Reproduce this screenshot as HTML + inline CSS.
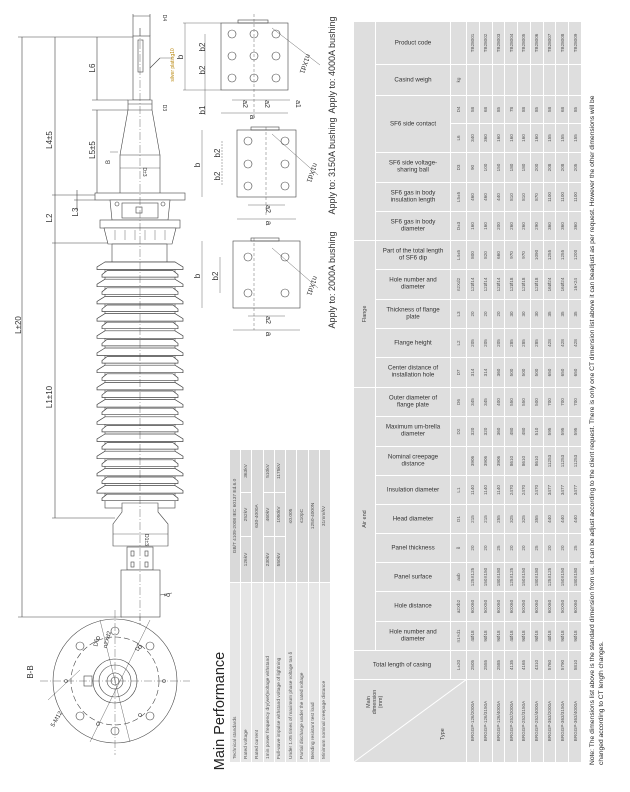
<!DOCTYPE html>
<html><head><meta charset="utf-8">
<style>
html,body{margin:0;padding:0;background:#fff;}
body{width:630px;height:792px;position:relative;overflow:hidden;font-family:"Liberation Sans",sans-serif;}
.rot{position:absolute;transform-origin:0 0;transform:rotate(-90deg);}
table{border-collapse:collapse;table-layout:fixed;font-family:"Liberation Sans",sans-serif;}
td{border:1px solid #fff;background:#dedede;padding:0;text-align:center;vertical-align:middle;font-size:4.6px;color:#555;overflow:hidden;white-space:nowrap;}
td.lab{position:relative;}
.h{position:absolute;left:50%;top:50%;width:64px;transform:translate(-50%,-50%) rotate(90deg);font-size:6.2px;line-height:7.4px;color:#333;white-space:normal;}
.h.w{width:90px;}
td.g{font-size:5.5px;color:#444;}
.pt td{font-size:4.8px;color:#555;background:#d9d9d9;}
.pt td.pl{text-align:left;padding-left:3px;background:#e6e6e6;}
</style></head><body>

<svg width="630" height="792" style="position:absolute;left:0;top:0" xmlns="http://www.w3.org/2000/svg">
<defs>
<polygon id="sb" points="105,0 97,5 97,7.5 183,7.5 183,5 175,0" fill="#fff" stroke="#444" stroke-width="0.7"/>
<polygon id="ss" points="107,0 102,4 102,6.5 178,6.5 178,4 173,0" fill="#fff" stroke="#444" stroke-width="0.7"/>
</defs>
<g stroke="#444" stroke-width="0.6" fill="none">
<line x1="22" y1="37" x2="22" y2="617"/>
<line x1="18" y1="37" x2="135" y2="37"/>
<line x1="18" y1="617" x2="122" y2="617"/>
<line x1="55" y1="37" x2="55" y2="518"/>
<line x1="52" y1="195" x2="95" y2="195"/>
<line x1="52" y1="243" x2="110" y2="243"/>
<line x1="52" y1="518" x2="115" y2="518"/>
<line x1="97" y1="37" x2="97" y2="100"/>
<line x1="92" y1="100" x2="128" y2="100"/>
<line x1="92" y1="110" x2="128" y2="110"/>
<line x1="97" y1="110" x2="97" y2="195"/>
<line x1="77" y1="190" x2="77" y2="210"/>
<line x1="74" y1="200" x2="95" y2="200"/>
<line x1="133" y1="14" x2="133" y2="36"/><line x1="150" y1="14" x2="150" y2="36"/>
<line x1="133" y1="16" x2="150" y2="16"/>
<line x1="140" y1="28" x2="140" y2="625" stroke-dasharray="8,2,1,2" stroke-width="0.4"/>
<rect x="133" y="36" width="17" height="64" fill="#fff"/>
<rect x="138" y="40" width="5" height="32"/>
<line x1="150" y1="68" x2="160" y2="58"/><line x1="160" y1="58" x2="172" y2="58" stroke-width="0.4"/>
<path d="M128,100 L152,100 L152,110 L160,155 L160,195 L120,195 L120,155 L128,110 Z" fill="#fff"/>
<line x1="128" y1="104" x2="152" y2="104"/><line x1="128" y1="110" x2="152" y2="110"/>
<line x1="120" y1="155" x2="160" y2="155"/>
<line x1="120" y1="168" x2="160" y2="168" stroke-width="0.4"/>
<line x1="110" y1="152" x2="118" y2="152" stroke-width="0.4"/>
<rect x="95" y="193" width="90" height="7" fill="#fff"/>
<path d="M110,200 L170,200 L168,220 L112,220 Z" fill="#fff"/>
<rect x="122" y="203" width="36" height="15"/>
<rect x="136" y="207" width="6" height="6"/>
<circle cx="117" cy="204" r="2"/><circle cx="163" cy="204" r="2"/>
<rect x="100" y="220" width="80" height="8" fill="#fff"/>
<path d="M104,228 L176,228 L172,244 L108,244 Z" fill="#fff"/>
<path d="M115,230 v10 M125,230 v10 M135,230 v10 M145,230 v10 M155,230 v10 M165,230 v10" stroke-width="0.4"/>
<rect x="112" y="244" width="55" height="21" fill="#fff"/>
<rect x="105" y="262" width="70" height="246" fill="#fff"/>
</g>
<g>
<use href="#sb" y="262"/><use href="#ss" y="270.6"/><use href="#sb" y="279.2"/><use href="#ss" y="287.8"/>
<use href="#sb" y="296.4"/><use href="#ss" y="305"/><use href="#sb" y="313.6"/><use href="#ss" y="322.2"/>
<use href="#sb" y="330.8"/><use href="#ss" y="339.4"/><use href="#sb" y="348"/><use href="#ss" y="356.6"/>
<use href="#sb" y="365.2"/><use href="#ss" y="373.8"/><use href="#sb" y="382.4"/><use href="#ss" y="391"/>
<use href="#sb" y="399.6"/><use href="#ss" y="408.2"/><use href="#sb" y="416.8"/><use href="#ss" y="425.4"/>
<use href="#sb" y="434"/><use href="#ss" y="442.6"/><use href="#sb" y="451.2"/><use href="#ss" y="459.8"/>
<use href="#sb" y="468.4"/><use href="#ss" y="477"/><use href="#sb" y="485.6"/><use href="#ss" y="494.2"/>
</g>
<g stroke="#444" stroke-width="0.6" fill="#fff">
<path d="M122,503 L158,503 L158,512 L168,524 L168,546 L113,546 L113,524 L122,512 Z"/>
<line x1="113" y1="534" x2="168" y2="534" stroke-width="0.4"/>
<rect x="127" y="547" width="26" height="23"/>
<rect x="131" y="551" width="3" height="5" fill="none"/><rect x="131" y="562" width="3" height="5" fill="none"/>
<rect x="145" y="551" width="3" height="5" fill="none"/><rect x="145" y="562" width="3" height="5" fill="none"/>
<rect x="121" y="570" width="39" height="47"/>
<line x1="160" y1="595" x2="172" y2="593" fill="none"/>
<line x1="140" y1="28" x2="140" y2="625" stroke-dasharray="8,2,1,2" stroke-width="0.4" fill="none"/>
</g>
<g stroke="#444" stroke-width="0.6" fill="none">
<circle cx="115" cy="681" r="62"/>
<circle cx="115" cy="681" r="44" stroke-dasharray="6,3"/>
<circle cx="115" cy="681" r="22"/>
<circle cx="115" cy="681" r="16"/>
<circle cx="115" cy="681" r="8"/>
<circle cx="115" cy="681" r="4"/>
<circle cx="115" cy="631" r="4"/><circle cx="115" cy="731" r="4"/>
<circle cx="80" cy="646" r="4"/><circle cx="150" cy="646" r="4"/>
<circle cx="80" cy="716" r="4"/><circle cx="150" cy="716" r="4"/>
<circle cx="66" cy="681" r="1.5"/><circle cx="164" cy="681" r="1.5"/>
<circle cx="98" cy="638" r="1.5"/><circle cx="98" cy="724" r="1.5"/>
<circle cx="140" cy="647" r="1.5"/><circle cx="140" cy="715" r="1.5"/>
<rect x="84" y="676" width="8" height="10"/>
<line x1="40" y1="681" x2="190" y2="681" stroke-dasharray="8,2,1,2" stroke-width="0.4"/>
<line x1="115" y1="610" x2="115" y2="755" stroke-dasharray="8,2,1,2" stroke-width="0.4"/>
<line x1="100" y1="620" x2="130" y2="742" stroke-width="0.4"/>
<line x1="150" y1="620" x2="90" y2="742" stroke-width="0.4"/>
<line x1="48" y1="700" x2="80" y2="670" stroke-width="0.4"/>
</g>
<g stroke="#444" stroke-width="0.6" fill="none">
<rect x="221" y="23" width="67" height="67"/>
<rect x="238" y="20" width="30" height="3"/>
<circle cx="232" cy="34" r="4"/><circle cx="254" cy="34" r="4"/><circle cx="276" cy="34" r="4"/>
<circle cx="232" cy="56" r="4"/><circle cx="254" cy="56" r="4"/><circle cx="276" cy="56" r="4"/>
<circle cx="232" cy="78" r="4"/><circle cx="254" cy="78" r="4"/><circle cx="276" cy="78" r="4"/>
<line x1="185" y1="23" x2="185" y2="90" stroke-width="0.4"/>
<line x1="205" y1="34" x2="205" y2="115" stroke-width="0.4"/>
<line x1="183" y1="23" x2="221" y2="23" stroke-width="0.4"/><line x1="183" y1="90" x2="221" y2="90" stroke-width="0.4"/>
<line x1="221" y1="113" x2="288" y2="113" stroke-width="0.4"/>
<line x1="232" y1="100" x2="290" y2="100" stroke-width="0.4"/>
<line x1="272" y1="28" x2="320" y2="65" stroke-width="0.4"/>
<rect x="237" y="130" width="59" height="67"/>
<rect x="251" y="127" width="28" height="3"/>
<circle cx="248" cy="141" r="4"/><circle cx="285" cy="141" r="4"/>
<circle cx="248" cy="164" r="4"/><circle cx="285" cy="164" r="4"/>
<circle cx="248" cy="186" r="4"/><circle cx="285" cy="186" r="4"/>
<line x1="202" y1="130" x2="202" y2="197" stroke-width="0.4"/>
<line x1="222" y1="141" x2="222" y2="186" stroke-width="0.4" stroke-dasharray="2,1"/>
<line x1="237" y1="219" x2="296" y2="219" stroke-width="0.4"/>
<line x1="248" y1="205" x2="285" y2="205" stroke-width="0.4"/>
<line x1="272" y1="134" x2="318" y2="175" stroke-width="0.4"/>
<rect x="233" y="241" width="67" height="67"/>
<rect x="251" y="238" width="28" height="3"/>
<circle cx="248" cy="257" r="4"/><circle cx="285" cy="257" r="4"/>
<circle cx="248" cy="293" r="4"/><circle cx="285" cy="293" r="4"/>
<line x1="202" y1="241" x2="202" y2="308" stroke-width="0.4"/>
<line x1="220" y1="257" x2="220" y2="293" stroke-width="0.4"/>
<line x1="233" y1="330" x2="300" y2="330" stroke-width="0.4"/>
<line x1="248" y1="316" x2="285" y2="316" stroke-width="0.4"/>
<line x1="272" y1="248" x2="318" y2="288" stroke-width="0.4"/>
<line x1="254" y1="238" x2="254" y2="330" stroke-width="0.4" stroke-dasharray="3,2"/>
<line x1="266" y1="127" x2="266" y2="215" stroke-width="0.4" stroke-dasharray="3,2"/>
<line x1="254" y1="14" x2="254" y2="118" stroke-width="0.4" stroke-dasharray="3,2"/>
</g>
<g font-family="Liberation Sans, sans-serif" fill="#333" font-size="8" text-anchor="middle">
<text transform="translate(21,325) rotate(-90)">L±20</text>
<text transform="translate(52,140) rotate(-90)">L4±5</text>
<text transform="translate(52,218) rotate(-90)">L2</text>
<text transform="translate(52,397) rotate(-90)">L1±10</text>
<text transform="translate(95,68) rotate(-90)">L6</text>
<text transform="translate(95,150) rotate(-90)">L5±5</text>
<text transform="translate(78,212) rotate(-90)">L3</text>
<text transform="translate(110,162) rotate(-90)" font-size="6">B</text>
<text transform="translate(170,595) rotate(-90)" font-size="7">δ</text>
<text transform="translate(143,172) rotate(90)" font-size="5">D±3</text>
<text transform="translate(145,540) rotate(90)" font-size="5">D1±3</text>
<text transform="translate(163,108) rotate(90)" font-size="5">D3</text>
<text transform="translate(163,18) rotate(90)" font-size="5">D4</text>
<text transform="translate(174,65) rotate(-90)" font-size="5" fill="#b8860b">silver plating10</text>
<text transform="translate(33,672) rotate(-90)">B-B</text>
<text transform="translate(58,720) rotate(-60)" font-size="6">5-M12</text>
<text transform="translate(98,643) rotate(-80)" font-size="6">D6</text>
<text transform="translate(109,640) rotate(-75)" font-size="6">n2Xd2</text>
<text transform="translate(140,648) rotate(-65)" font-size="6">D7</text>
<text transform="translate(183,57) rotate(-90)">b</text>
<text transform="translate(205,47) rotate(-90)">b2</text>
<text transform="translate(205,70) rotate(-90)">b2</text>
<text transform="translate(205,110) rotate(-90)">b1</text>
<text transform="translate(250,117) rotate(90)">a</text>
<text transform="translate(243,104) rotate(90)" font-size="7">a2</text>
<text transform="translate(265,104) rotate(90)" font-size="7">a2</text>
<text transform="translate(296,104) rotate(90)" font-size="7">a1</text>
<text transform="translate(303,63) rotate(110)" font-size="7">n1Xd1</text>
<text transform="translate(200,165) rotate(-90)">b</text>
<text transform="translate(220,153) rotate(-90)">b2</text>
<text transform="translate(220,176) rotate(-90)">b2</text>
<text transform="translate(266,223) rotate(90)">a</text>
<text transform="translate(266,209) rotate(90)" font-size="7">a2</text>
<text transform="translate(310,172) rotate(110)" font-size="7">n1Xd1</text>
<text transform="translate(200,276) rotate(-90)">b</text>
<text transform="translate(218,276) rotate(-90)">b2</text>
<text transform="translate(266,334) rotate(90)">a</text>
<text transform="translate(266,320) rotate(90)" font-size="7">a2</text>
<text transform="translate(310,285) rotate(110)" font-size="7">n1Xd1</text>
<text transform="translate(335,65) rotate(-90)" font-size="9">Apply to: 4000A bushing</text>
<text transform="translate(335,166) rotate(-90)" font-size="9">Apply to: 3150A bushing</text>
<text transform="translate(335,280) rotate(-90)" font-size="9">Apply to: 2000A bushing</text>
<text transform="translate(224,711) rotate(-90)" font-size="14.5" fill="#222">Main Performance</text>
<text transform="translate(594,765) rotate(-90)" font-size="6.7" text-anchor="start" fill="#222">Note: The dimensions list above is the standard dimension from us. It can be adjust according to the client request. There is only one CT dimension list above it can beadjust as per request. However the other dimensions will be</text>
<text transform="translate(603,765) rotate(-90)" font-size="6.7" text-anchor="start" fill="#222">changed according to CT length changes.</text>
</g>
</svg>

<div class="rot pt" style="left:229px;top:763px;width:313px;height:102px;">
<table style="width:313px;height:102px;">
<colgroup><col style="width:180px"><col style="width:46px"><col style="width:44px"><col style="width:43px"></colgroup>
<tr><td class="pl">Technical standards</td><td colspan="3">GB/T 4109-2008 IEC 60137 Ed.6.0</td></tr>
<tr><td class="pl">Rated voltage</td><td>126kV</td><td>252kV</td><td>363kV</td></tr>
<tr><td class="pl">Rated current</td><td colspan="3">630-4000A</td></tr>
<tr><td class="pl">1min power frequency dry(wet)voltage withstand</td><td>230kV</td><td>460kV</td><td>510kV</td></tr>
<tr><td class="pl">Full-wave impulse withstand voltage of lightning</td><td>550kV</td><td>1050kV</td><td>1175kV</td></tr>
<tr><td class="pl">Under 1.05 times of maximum phase voltage tan δ</td><td colspan="3">≤0.005</td></tr>
<tr><td class="pl">Partial discharge under the rated voltage</td><td colspan="3">≤10pC</td></tr>
<tr><td class="pl">Bending resistant test load</td><td colspan="3">1250-4000N</td></tr>
<tr><td class="pl">Minimum nominal creepage distance</td><td colspan="3">31mm/kV</td></tr>
</table></div>

<div class="rot" style="left:353px;top:763px;width:741px;height:229px;">
<table style="width:741px;height:229px;">
<colgroup>
<col style="width:83px"><col style="width:29px"><col style="width:29px"><col style="width:30px"><col style="width:29px"><col style="width:29px"><col style="width:29px"><col style="width:29px"><col style="width:29px"><col style="width:30px"><col style="width:29px"><col style="width:30px"><col style="width:29px"><col style="width:29px"><col style="width:30px"><col style="width:29px"><col style="width:29px"><col style="width:29px"><col style="width:30px"><col style="width:29px"><col style="width:28px"><col style="width:31px"><col style="width:43px">
</colgroup>
<tr style="height:22px">
<td rowspan="3" style="position:relative;">
<svg width="83" height="113" style="position:absolute;left:0;top:0"><line x1="0" y1="0" x2="83" y2="113" stroke="#fff" stroke-width="1"/></svg>
<div style="position:absolute;left:45px;top:12px;font-size:5.4px;line-height:6px;color:#444;text-align:center;white-space:normal;width:30px;">Main dimension (mm)</div>
<div style="position:absolute;left:22px;top:86px;font-size:5.4px;color:#444;">Type</div>
</td>
<td rowspan="2" class="lab"><div class="h w">Total length of casing</div></td>
<td colspan="9" class="g">Air end</td>
<td colspan="5" class="g">Flange</td>
<td colspan="8"></td>
</tr>
<tr style="height:75px">
<td class="lab"><div class="h">Hole number and diameter</div></td>
<td class="lab"><div class="h">Hole distance</div></td>
<td class="lab"><div class="h">Panel surface</div></td>
<td class="lab"><div class="h">Panel thickness</div></td>
<td class="lab"><div class="h">Head diameter</div></td>
<td class="lab"><div class="h">Insulation diameter</div></td>
<td class="lab"><div class="h">Nominal creepage distance</div></td>
<td class="lab"><div class="h">Maximum um-brella diameter</div></td>
<td class="lab"><div class="h">Outer diameter of flange plate</div></td>
<td class="lab"><div class="h">Center distance of installation hole</div></td>
<td class="lab"><div class="h">Flange height</div></td>
<td class="lab"><div class="h">Thickness of flange plate</div></td>
<td class="lab"><div class="h">Hole number and diameter</div></td>
<td class="lab"><div class="h">Part of the total length of SF6 dip</div></td>
<td class="lab"><div class="h">SF6 gas in body diameter</div></td>
<td class="lab"><div class="h">SF6 gas in body insulation length</div></td>
<td class="lab"><div class="h">SF6 side voltage-sharing ball</div></td>
<td class="lab" colspan="2"><div class="h">SF6 side contact</div></td>
<td class="lab"><div class="h">Casind weigh</div></td>
<td class="lab"><div class="h">Product code</div></td>
</tr>
<tr style="height:16px">
<td>L±20</td><td>n1×d1</td><td>a2Xb2</td><td>axb</td><td>δ</td><td>D1</td><td>L1</td><td></td><td>D2</td><td>D6</td><td>D7</td><td>L2</td><td>L3</td><td>n2Xd2</td><td>L4±5</td><td>D±3</td><td>L5±5</td><td>D3</td><td>L6</td><td>D4</td><td>kg</td><td></td>
</tr>
<tr><td>BRGGP-126/2000A</td><td>2505</td><td>4Ø18</td><td>60X60</td><td>125X125</td><td>20</td><td>215</td><td>1140</td><td>3906</td><td>320</td><td>345</td><td>314</td><td>205</td><td>20</td><td>12Ø14</td><td>800</td><td>160</td><td>460</td><td>90</td><td>340</td><td>58</td><td></td><td>TB28001</td></tr>
<tr><td>BRGGP-126/3150A</td><td>2555</td><td>9Ø18</td><td>50X50</td><td>150X150</td><td>20</td><td>215</td><td>1140</td><td>3906</td><td>320</td><td>345</td><td>314</td><td>205</td><td>20</td><td>12Ø14</td><td>820</td><td>160</td><td>460</td><td>100</td><td>360</td><td>68</td><td></td><td>TB28002</td></tr>
<tr><td>BRGGP-126/4000A</td><td>2585</td><td>9Ø18</td><td>60X60</td><td>180X180</td><td>25</td><td>255</td><td>1140</td><td>3906</td><td>360</td><td>400</td><td>360</td><td>205</td><td>20</td><td>12Ø14</td><td>660</td><td>200</td><td>440</td><td>150</td><td>160</td><td>85</td><td></td><td>TB28003</td></tr>
<tr><td>BRGGP-252/2000A</td><td>4135</td><td>4Ø18</td><td>60X60</td><td>125X125</td><td>20</td><td>325</td><td>2470</td><td>8610</td><td>480</td><td>550</td><td>500</td><td>285</td><td>30</td><td>12Ø18</td><td>970</td><td>260</td><td>810</td><td>180</td><td>160</td><td>78</td><td></td><td>TB28004</td></tr>
<tr><td>BRGGP-252/3150A</td><td>4165</td><td>9Ø18</td><td>50X50</td><td>150X150</td><td>20</td><td>325</td><td>2470</td><td>8610</td><td>480</td><td>550</td><td>500</td><td>285</td><td>30</td><td>12Ø18</td><td>970</td><td>260</td><td>810</td><td>180</td><td>160</td><td>88</td><td></td><td>TB28005</td></tr>
<tr><td>BRGGP-252/4000A</td><td>4310</td><td>9Ø18</td><td>60X60</td><td>180X180</td><td>25</td><td>355</td><td>2470</td><td>8610</td><td>510</td><td>500</td><td>500</td><td>285</td><td>30</td><td>12Ø18</td><td>1090</td><td>290</td><td>870</td><td>200</td><td>160</td><td>85</td><td></td><td>TB28006</td></tr>
<tr><td>BRGGP-363/2000A</td><td>5760</td><td>4Ø18</td><td>60X60</td><td>125X125</td><td>20</td><td>440</td><td>3477</td><td>11253</td><td>595</td><td>700</td><td>650</td><td>428</td><td>35</td><td>16Ø24</td><td>1255</td><td>360</td><td>1100</td><td>208</td><td>155</td><td>58</td><td></td><td>TB28007</td></tr>
<tr><td>BRGGP-363/3150A</td><td>5790</td><td>9Ø18</td><td>50X50</td><td>150X150</td><td>20</td><td>440</td><td>3477</td><td>11253</td><td>595</td><td>700</td><td>650</td><td>428</td><td>35</td><td>16Ø24</td><td>1255</td><td>360</td><td>1100</td><td>208</td><td>155</td><td>68</td><td></td><td>TB28008</td></tr>
<tr><td>BRGGP-363/4000A</td><td>5810</td><td>9Ø18</td><td>60X60</td><td>180X180</td><td>25</td><td>440</td><td>3477</td><td>11253</td><td>595</td><td>700</td><td>650</td><td>428</td><td>35</td><td>16×24</td><td>1200</td><td>360</td><td>1100</td><td>205</td><td>155</td><td>85</td><td></td><td>TB28009</td></tr>
</table></div>

</body></html>
